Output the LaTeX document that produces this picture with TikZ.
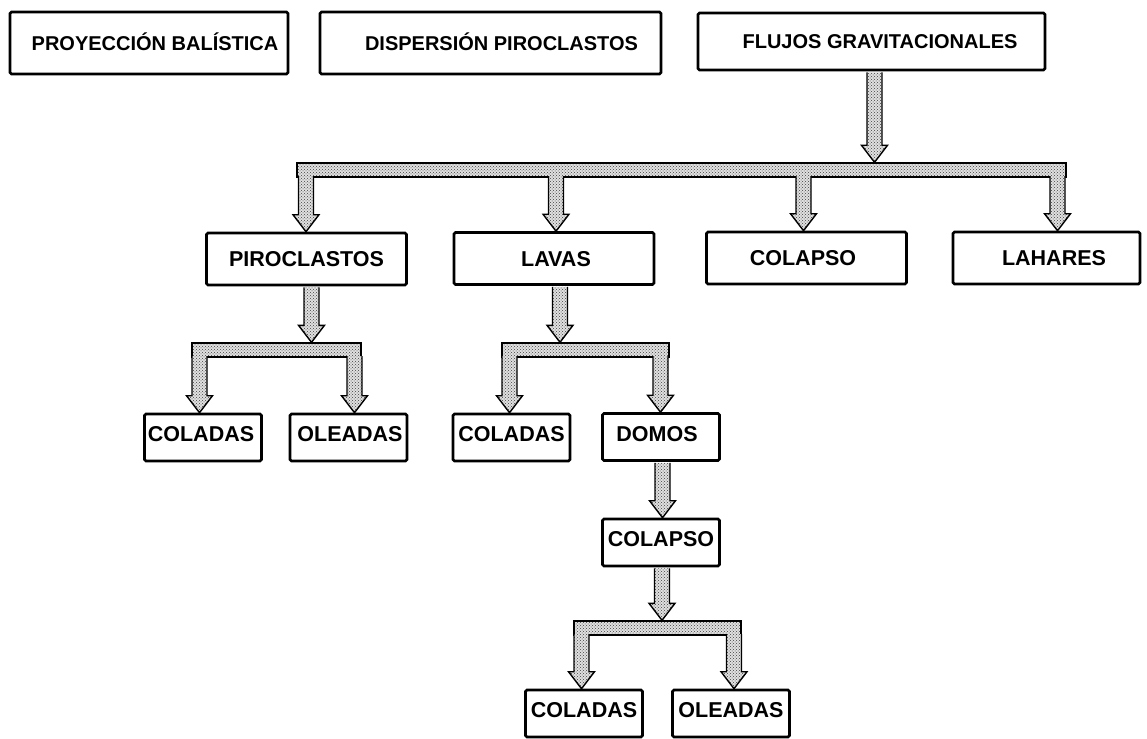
\documentclass[tikz,border=0pt]{standalone}
\usepackage{fontspec}
\setmainfont{Liberation Sans}
\usetikzlibrary{calc,patterns}
\begin{document}
\begin{tikzpicture}[x=1pt,y=-1pt,
  box/.style={draw, line width=2.6pt, rounded corners=1.5pt, fill=white, inner sep=0pt, font=\bfseries\fontsize{21.5}{24}\selectfont},
  topbox/.style={box, font=\bfseries\fontsize{20}{24}\selectfont, minimum height=62pt, text height=14.3pt, text depth=0pt},
  midbox/.style={box, minimum width=200pt, minimum height=52pt, text height=15.4pt, text depth=0pt},
  lowbox/.style={box, minimum width=117pt, minimum height=47pt, text height=15.5pt, text depth=7pt},
  dotfill/.style={preaction={fill=black!12}, pattern=crosshatch dots, pattern color=black!75},
  bar/.style={draw, line width=1.4pt, dotfill, inner sep=0pt, minimum height=14pt},
  blk/.style={draw, line width=1.4pt, dotfill, to path={let \p1=(\tikztostart), \p2=(\tikztotarget) in ({\x1-7.5pt},{\y1+#1}) -- ({\x1-7.5pt},{\y2+17pt}) -- ({\x1-13pt},{\y2+17pt}) -- (\x1,\y2) -- ({\x1+13pt},{\y2+17pt}) -- ({\x1+7.5pt},{\y2+17pt}) -- ({\x1+7.5pt},{\y1+#1})}},
  blk/.default=-1pt,
]
\useasboundingbox (0,0) rectangle (1147,738);

% top row
\node[topbox, minimum width=278pt] (pb) at (149,43) {\hspace*{12pt}PROYECCIÓN BALÍSTICA};
\node[topbox, minimum width=341pt] (dp) at (490.5,43) {\hspace*{22pt}DISPERSIÓN PIROCLASTOS};
\node[topbox, minimum width=347pt, minimum height=57pt] (fg) at (871.5,41.5) {\hspace*{17pt}FLUJOS GRAVITACIONALES};

% second row
\node[midbox] (pir) at (306.5,259) {PIROCLASTOS};
\node[midbox] (lav) at (554,258.5) {\hspace*{4pt}LAVAS};
\node[midbox] (col) at (806.5,258) {COLAPSO\hspace*{7pt}};
\node[midbox, minimum width=187pt] (lah) at (1046.5,258) {\hspace*{15pt}LAHARES};

% lower rows
\node[lowbox] (c1) at (203,437.5) {COLADAS\hspace*{4pt}};
\node[lowbox] (o1) at (348.5,437.5) {\hspace*{3pt}OLEADAS};
\node[lowbox] (c2) at (511.5,437.5) {COLADAS};
\node[lowbox] (dm) at (661,437) {DOMOS\hspace*{8pt}};
\node[lowbox] (cp) at (661,542.5) {COLAPSO};
\node[lowbox] (c3) at (584,713.5) {COLADAS};
\node[lowbox] (o3) at (731,713.5) {OLEADAS};

% bars
\node[bar, minimum width=769pt] (b1) at (681.5,170) {};
\node[bar, minimum width=169pt] (b2) at (276.5,350) {};
\node[bar, minimum width=167pt] (b3) at (585.5,350) {};
\node[bar, minimum width=167pt] (b4) at (657.5,628) {};

% arrow x positions
\coordinate (xa0) at (874.5,0);
\coordinate (xa1) at (306,0);
\coordinate (xa2) at (556,0);
\coordinate (xa3) at (803.5,0);
\coordinate (xa4) at (1057.5,0);
\coordinate (xq0) at (311.5,0);
\coordinate (xq1) at (199.5,0);
\coordinate (xq2) at (354.5,0);
\coordinate (xr0) at (560,0);
\coordinate (xr1) at (509.5,0);
\coordinate (xr2) at (660.5,0);
\coordinate (xs0) at (662.5,0);
\coordinate (xs1) at (662,0);
\coordinate (xs2) at (581.5,0);
\coordinate (xs3) at (734,0);

% arrows
\draw[blk] (xa0 |- fg.south) to (xa0 |- b1.north);
\draw[blk=1.5pt] (xa1 |- b1.south) to (xa1 |- pir.north);
\draw[blk=1.5pt] (xa2 |- b1.south) to (xa2 |- lav.north);
\draw[blk=1.5pt] (xa3 |- b1.south) to (xa3 |- col.north);
\draw[blk=1.5pt] (xa4 |- b1.south) to (xa4 |- lah.north);

\draw[blk] (xq0 |- pir.south) to (xq0 |- b2.north);
\draw[blk=1.5pt] (xq1 |- b2.south) to (xq1 |- c1.north);
\draw[blk=1.5pt] (xq2 |- b2.south) to (xq2 |- o1.north);

\draw[blk] (xr0 |- lav.south) to (xr0 |- b3.north);
\draw[blk=1.5pt] (xr1 |- b3.south) to (xr1 |- c2.north);
\draw[blk=1.5pt] (xr2 |- b3.south) to (xr2 |- dm.north);

\draw[blk] (xs0 |- dm.south) to (xs0 |- cp.north);
\draw[blk] (xs1 |- cp.south) to (xs1 |- b4.north);
\draw[blk=1.5pt] (xs2 |- b4.south) to (xs2 |- c3.north);
\draw[blk=1.5pt] (xs3 |- b4.south) to (xs3 |- o3.north);
\end{tikzpicture}
\end{document}
